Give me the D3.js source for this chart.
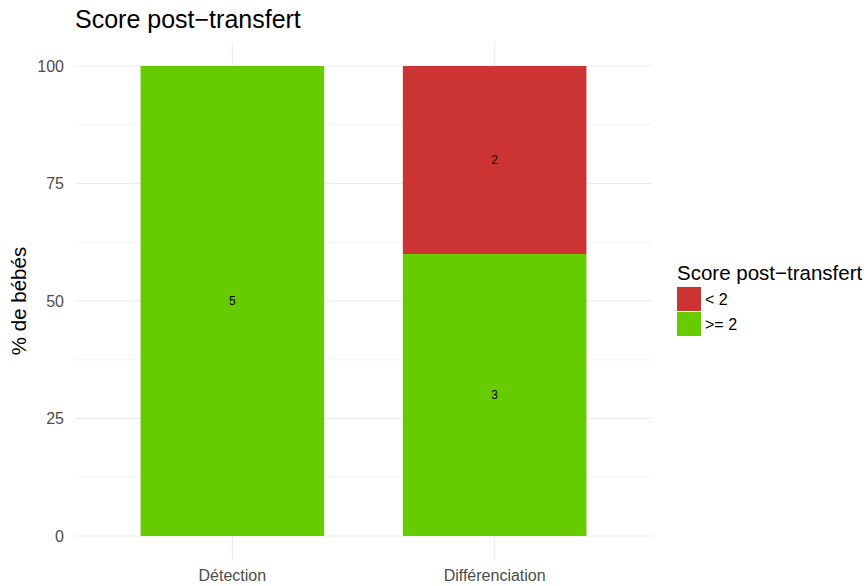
<!DOCTYPE html>
<html>
<head>
<meta charset="utf-8">
<script src="https://cdn.jsdelivr.net/npm/d3@7"></script>
<style>
  body { margin: 0; background: #fff; }
  text { font-family: "Liberation Sans", Arial, sans-serif; }
</style>
</head>
<body>
<div id="chart"></div>
<script>
// Data
const categories = ["Détection", "Différenciation"];
const groups = ["< 2", ">= 2"];
const counts = {
  "< 2": [0, 2],
  ">= 2": [5, 3]
};
const yTicks = [0, 25, 50, 75, 100];
const colors = ["#CC3333", "#66CC00"];

const width = 866, height = 586;
const panel = { left: 75, right: 652, top: 42.5, bottom: 559.5 };

const svg = d3.select("#chart").append("svg")
  .attr("width", width).attr("height", height);

// percentages, stacked with ">= 2" at the bottom
const rows = categories.map((c, i) => {
  const total = groups.reduce((s, g) => s + counts[g][i], 0);
  const row = { cat: c };
  groups.forEach(g => { row[g] = counts[g][i] / total * 100; row["n_" + g] = counts[g][i]; });
  return row;
});
const stack = d3.stack().keys([">= 2", "< 2"]);
const series = stack(rows);

// ggplot-like discrete expansion: 0.6 each side
const xLin = d3.scaleLinear().domain([0.4, categories.length + 0.6]).range([panel.left, panel.right]);
const x = d => xLin(categories.indexOf(d) + 1);
const barW = xLin(1.7) - xLin(1);
const y = d3.scaleLinear().domain([-5, 105]).range([panel.bottom, panel.top]);
const color = d3.scaleOrdinal().domain(groups).range(colors);

// grid
const minor = [12.5, 37.5, 62.5, 87.5];
svg.append("g").selectAll("line").data(minor).join("line")
  .attr("x1", panel.left).attr("x2", panel.right)
  .attr("y1", d => y(d)).attr("y2", d => y(d))
  .attr("stroke", "#ebebeb").attr("stroke-width", 0.6);
svg.append("g").selectAll("line").data(yTicks).join("line")
  .attr("x1", panel.left).attr("x2", panel.right)
  .attr("y1", d => y(d)).attr("y2", d => y(d))
  .attr("stroke", "#ebebeb").attr("stroke-width", 1.1);
svg.append("g").selectAll("line").data(categories).join("line")
  .attr("x1", d => x(d)).attr("x2", d => x(d))
  .attr("y1", panel.top).attr("y2", panel.bottom)
  .attr("stroke", "#ebebeb").attr("stroke-width", 1.1);

// bars
svg.append("g").selectAll("g").data(series).join("g")
  .attr("fill", s => color(s.key))
  .selectAll("rect").data(s => s.map(d => ({ key: s.key, d })))
  .join("rect")
  .filter(o => o.d[1] - o.d[0] > 0)
  .attr("x", o => x(o.d.data.cat) - barW / 2)
  .attr("width", barW)
  .attr("y", o => y(o.d[1]))
  .attr("height", o => y(o.d[0]) - y(o.d[1]));

// value labels
const labels = [];
series.forEach(s => s.forEach(d => {
  const n = d.data["n_" + s.key];
  if (n > 0) labels.push({ cat: d.data.cat, mid: (d[0] + d[1]) / 2, n });
}));
svg.append("g").selectAll("text").data(labels).join("text")
  .attr("x", d => x(d.cat)).attr("y", d => y(d.mid))
  .attr("dy", "0.35em").attr("text-anchor", "middle")
  .attr("font-size", 12).attr("fill", "#000")
  .text(d => d.n);

// axes labels
svg.append("g").selectAll("text").data(yTicks).join("text")
  .attr("x", 64).attr("y", d => y(d)).attr("dy", "0.35em")
  .attr("text-anchor", "end").attr("font-size", 16).attr("fill", "#4d4d4d")
  .text(d => d);
svg.append("g").selectAll("text").data(categories).join("text")
  .attr("x", d => x(d)).attr("y", 581)
  .attr("text-anchor", "middle").attr("font-size", 16).attr("fill", "#4d4d4d")
  .text(d => d);

svg.append("text")
  .attr("transform", `translate(26,${(panel.top + panel.bottom) / 2}) rotate(-90)`)
  .attr("text-anchor", "middle").attr("font-size", 20.5).attr("fill", "#000")
  .text("% de bébés");

svg.append("text").attr("x", 75).attr("y", 28)
  .attr("font-size", 25).attr("fill", "#000")
  .text("Score post\u2212transfert");

// legend
const lg = svg.append("g").attr("transform", "translate(677,0)");
lg.append("text").attr("x", 0).attr("y", 280).attr("font-size", 20.5).attr("fill", "#000")
  .text("Score post\u2212transfert");
const items = lg.selectAll("g.item").data(groups).join("g")
  .attr("transform", (d, i) => `translate(0,${287 + i * 25})`);
items.append("rect").attr("width", 24).attr("height", 24).attr("fill", d => color(d));
items.append("text").attr("x", 28).attr("y", 12).attr("dy", "0.35em")
  .attr("font-size", 16).attr("fill", "#000").text(d => d);
</script>
</body>
</html>
